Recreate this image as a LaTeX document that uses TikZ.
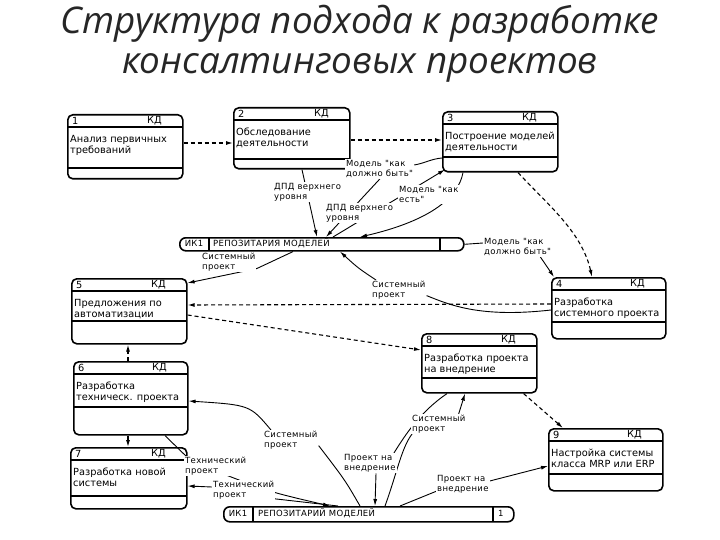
\documentclass[tikz,border=0pt]{standalone}
\usepackage{fontspec}
\setmainfont{DejaVu Sans}
\newfontfamily\headfont{Open Sans}
\newfontfamily\boxface{DejaVu Sans}
\newfontfamily\lblface{DejaVu Sans}[LetterSpace=4]
\usetikzlibrary{arrows.meta,calc,backgrounds}

\newcommand{\boxfont}{\boxface\fontsize{9.8}{11}\selectfont}
\newcommand{\lblfont}{\lblface\fontsize{8.5}{10}\selectfont}
\newcommand{\repofont}{\lblface\fontsize{8.5}{10}\selectfont}

\tikzset{
  kdbox/.style={draw, line width=1.6pt, rounded corners=5pt, inner sep=0pt, anchor=north west},
  repo/.style={draw, line width=1.6pt, rounded corners=6pt, inner sep=0pt, anchor=north west},
  sep/.style={line width=1.1pt},
  boxtxt/.style={font=\boxfont, align=left, inner sep=0pt, anchor=north west},
  lbl/.style={font=\lblfont, align=left, inner sep=1pt, fill=white, anchor=north west},
  flow/.style={line width=0.9pt, -{Latex[length=7pt,width=4pt]}},
  link/.style={line width=0.9pt},
  ctrl/.style={line width=1.1pt, dash pattern=on 4pt off 3pt, -{Latex[length=7pt,width=4pt]}},
  headline/.style={font=\headfont\itshape\fontsize{36.8}{40}\selectfont, anchor=base, text=black!85},
}

% блок: имя, x1, y1, x2, y2, y разделителя, номер, текст
\newcommand{\procbox}[8]{%
  \node[kdbox, minimum width={(#4-#2)*1pt}, minimum height={(#5-#3)*1pt}] (#1) at (#2,#3) {};
  \draw[sep] (#2,#3+13) -- (#4,#3+13);
  \draw[sep] (#2,#6) -- (#4,#6);
  \node[boxtxt, anchor=west] (#1num) at (#2+5,#3+7) {#7};
  \node[boxtxt, anchor=east] (#1kd) at (#4-20,#3+7) {КД};
  \node[boxtxt] (#1txt) at (#2+3,#3+21) {#8};
}

\begin{document}
\begin{tikzpicture}[x=1pt,y=-1pt]
  \useasboundingbox (0,0) rectangle (720,540);

  % Заголовок
  \node[headline] (head1) at (360,34) {Структура подхода к разработке};
  \node[headline] (head2) at (360,74) {консалтинговых проектов};

  % Блоки
  \procbox{b1}{67}{114}{182}{178}{168}{1}{Анализ первичных\\требований}
  \procbox{b2}{233}{107}{349}{168}{159}{2}{Обследование\\деятельности}
  \procbox{b3}{442}{111}{557}{171}{157}{3}{Построение моделей\\деятельности}
  \procbox{b5}{71}{278}{186}{343}{321}{5}{Предложения по\\автоматизации}
  \procbox{b4}{551}{277}{665}{338}{322}{4}{Разработка\\системного проекта}
  \procbox{b8}{421}{333}{536}{392}{378}{8}{Разработка проекта\\на внедрение}
  \procbox{b6}{73}{361}{187}{434}{407}{6}{Разработка\\техническ. проекта}
  \procbox{b7}{70}{447}{186}{508}{496}{7}{Разработка новой\\системы}
  \procbox{b9}{548}{428}{662}{490}{474}{9}{Настройка системы\\класса MRP или ERP}

  % Репозитарии
  \node[repo, minimum width=284pt, minimum height=13pt] (repoT) at (179,237) {};
  \draw[sep] (209,237) -- (209,250);
  \draw[sep] (440,237) -- (440,250);
  \node[font=\repofont, inner sep=0pt] (repoTid) at (194,243.5) {ИК1};
  \node[font=\repofont, inner sep=0pt, anchor=west] (repoTname) at (213,243.5) {РЕПОЗИТАРИЯ МОДЕЛЕЙ};

  \node[repo, minimum width=290pt, minimum height=15pt] (repoB) at (223,506) {};
  \draw[sep] (253,506) -- (253,521);
  \draw[sep] (493,506) -- (493,521);
  \node[font=\repofont, inner sep=0pt] (repoBid) at (238,513.5) {ИК1};
  \node[font=\repofont, inner sep=0pt, anchor=west] (repoBname) at (258,513.5) {РЕПОЗИТАРИЙ МОДЕЛЕЙ};
  \node[font=\repofont, inner sep=0pt, anchor=west] (repoBnum) at (498,513.5) {1};

  % Подписи потоков
  \node[lbl] (L1) at (273,182) {ДПД верхнего\\уровня};
  \node[lbl] (L2) at (325,203) {ДПД верхнего\\уровня};
  \node[lbl] (L3) at (345,159) {Модель "как\\должно быть"};
  \node[lbl] (L4) at (398,185) {Модель "как\\есть"};
  \node[lbl] (L5) at (483,237) {Модель "как\\должно быть"};
  \node[lbl] (L6) at (201,252) {Системный\\проект};
  \node[lbl] (L7) at (371,280) {Системный\\проект};
  \node[lbl] (L8) at (263,430) {Системный\\проект};
  \node[lbl] (L9) at (184,456) {Технический\\проект};
  \node[lbl] (L10) at (212,480) {Технический\\проект};
  \node[lbl] (L11) at (343,453) {Проект на\\внедрение};
  \node[lbl] (L12) at (411,414) {Системный\\проект};
  \node[lbl] (L13) at (436,474) {Проект на\\внедрение};

  \begin{scope}[on background layer]
    \fill[white] (0,0) rectangle (720,540);
    % Пунктирные связи
    \draw[ctrl] ($(b1.north east)+(0,29)$) -- ($(b2.north west)+(0,36)$);
    \draw[ctrl] ($(b2.north east)+(0,33)$) -- ($(b3.north west)+(0,29)$);
    \draw[ctrl] ($(b3.south west)+(76,0)$) .. controls (548,205) and (582,232) .. ($(b4.north west)+(41,0)$);
    \draw[ctrl] ($(b4.north west)+(0,27)$) -- ($(b5.north east)+(0,27)$);
    \draw[ctrl] ($(b5.north east)+(0,37)$) -- ($(b8.north west)+(0,17)$);
    \draw[ctrl] ($(b6.north west)+(55,0)$) -- ($(b5.south west)+(57,0)$);
    \draw[ctrl] ($(b6.south west)+(55,0)$) -- ($(b7.north west)+(58,0)$);
    \draw[ctrl] ($(b8.south east)+(-14,0)$) -- ($(b9.north west)+(15,0)$);

    % Потоки верхнего репозитария
    \draw[flow] ($(b2.south west)+(69,0)$) -- ($(repoT.north west)+(138,0)$);
    \draw[flow] ($(repoT.north west)+(154,0)$) -- ($(b3.south west)+(3,-3)$);
    \draw[link] ($(b3.north west)+(0,47)$) to[out=185,in=10] ($(L3.north east)+(0,6)$);
    \draw[flow] ($(L3.south west)+(35,0)$) -- ($(repoT.north west)+(147,0)$);
    \draw[flow] ($(b3.south west)+(21,0)$) .. controls (458,200) and (425,222) .. ($(repoT.north west)+(181,0)$);
    \draw[link] (repoT.east) -- ($(L5.north west)+(0,6)$);
    \draw[flow] ($(L5.south east)+(-12,0)$) -- ($(b4.north west)+(3,0)$);
    \draw[flow] ($(repoT.south west)+(114,0)$) -- ($(L6.south east)+(0,-4)$) -- ($(b5.north east)+(0,5)$);
    \draw[link] ($(b4.north west)+(0,33)$) .. controls (480,318) and (450,305) .. ($(L7.south east)+(0,-5)$);
    \draw[flow] ($(L7.north west)+(5,0)$) .. controls (358,268) .. ($(repoT.south west)+(161,0)$);

    % Потоки нижнего репозитария
    \draw[link] ($(repoB.north west)+(137,0)$) .. controls (345,480) .. ($(L8.south east)+(0,-5)$);
    \draw[flow] ($(L8.north west)+(8,0)$) .. controls (250,405) .. ($(b6.north east)+(0,40)$);
    \draw[link] ($(b6.south west)+(92,0)$) -- ($(L9.north west)+(4,2)$);
    \draw[flow] ($(L9.south east)+(-25,-3)$) .. controls (270,492) .. ($(repoB.north west)+(107,0)$);
    \draw[link] ($(repoB.north west)+(115,0)$) -- ($(L10.south east)+(-20,-4)$);
    \draw[flow] ($(L10.north west)+(0,7)$) -- ($(b7.north east)+(0,39)$);
    \draw[link] ($(b8.south west)+(26,0)$) .. controls (420,412) and (405,435) .. ($(L11.north east)+(-4,2)$);
    \draw[flow] ($(L11.south west)+(33,0)$) -- ($(repoB.north west)+(152,0)$);
    \draw[link] ($(repoB.north west)+(162,0)$) .. controls (398,470) and (402,445) .. ($(L12.south west)+(3,-3)$);
    \draw[flow] ($(L12.north east)+(-8,0)$) -- ($(b8.south west)+(44,0)$);
    \draw[link] ($(repoB.north west)+(177,0)$) -- ($(L13.south west)+(0,-3)$);
    \draw[flow] ($(L13.north east)+(0,7)$) -- ($(b9.north west)+(0,38)$);
  \end{scope}
\end{tikzpicture}
\end{document}
